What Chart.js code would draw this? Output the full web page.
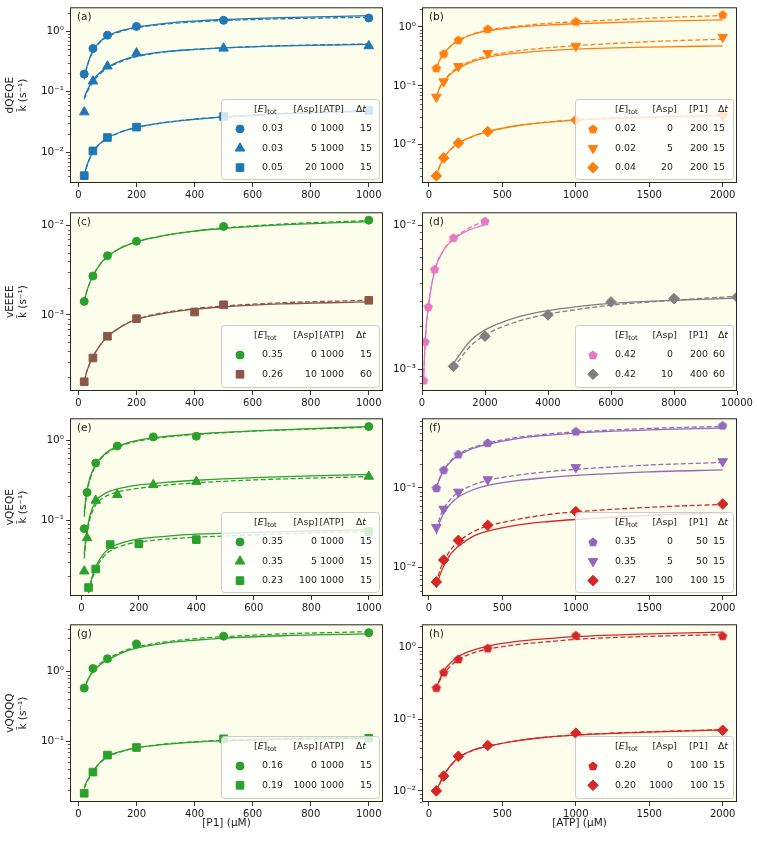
<!DOCTYPE html>
<html lang="en">
<head>
<meta charset="UTF-8">
<title>Rate constants vs substrate</title>
<script src="https://cdn.jsdelivr.net/npm/chart.js@4.4.1/dist/chart.umd.min.js"></script>
<style>
  html, body { margin: 0; padding: 0; background: #fff; }
  body { width: 757px; height: 843px; position: relative; overflow: hidden; }
  canvas { position: absolute; }
</style>
</head>
<body>
<script>
// ---- tick labels ----
const xTicksP1 = [0, 200, 400, 600, 800, 1000];
const xTicksATP = [0, 500, 1000, 1500, 2000];
const xTicksD = [0, 2000, 4000, 6000, 8000, 10000];
const decades = [1e-4, 1e-3, 1e-2, 1e-1, 1, 10];
const decadeLabels = ['10⁻⁴', '10⁻³', '10⁻²', '10⁻¹', '10⁰', '10¹'];

// ---- (a) dQEQE vs [P1] ----
const aX = [20, 50, 100, 200, 500, 1000];
const aCirc = [0.196, 0.517, 0.86, 1.2, 1.51, 1.65];
const aTri = [0.046, 0.149, 0.264, 0.434, 0.52, 0.57];
const aSq = [0.0041, 0.0105, 0.0175, 0.026, 0.039, 0.049];
const fitXLeft = [20, 30, 50, 75, 100, 150, 200, 300, 400, 500, 700, 1000];
const aCircSolid = [0.17, 0.27, 0.48, 0.68, 0.83, 1.03, 1.17, 1.35, 1.47, 1.56, 1.68, 1.80];
const aCircDash = [0.16, 0.26, 0.46, 0.66, 0.81, 1.00, 1.14, 1.31, 1.42, 1.50, 1.60, 1.70];
const aTriSolid = [0.080, 0.105, 0.155, 0.210, 0.255, 0.330, 0.390, 0.460, 0.500, 0.530, 0.570, 0.605];
const aTriDash = [0.075, 0.098, 0.145, 0.198, 0.245, 0.320, 0.380, 0.455, 0.500, 0.530, 0.575, 0.615];
const aSqSolid = [0.0042, 0.0062, 0.0102, 0.0140, 0.0172, 0.0220, 0.0258, 0.0310, 0.0350, 0.0380, 0.0430, 0.0480];
const aSqDash = [0.0040, 0.0060, 0.0100, 0.0138, 0.0170, 0.0218, 0.0256, 0.0310, 0.0352, 0.0385, 0.0435, 0.0490];
const aLegend = [['0.03', '0', '1000', '15'], ['0.03', '5', '1000', '15'], ['0.05', '20', '1000', '15']];

// ---- (b) dQEQE vs [ATP] ----
const bX = [50, 100, 200, 400, 1000, 2000];
const bPent = [0.2, 0.352, 0.598, 0.925, 1.24, 1.61];
const bTri = [0.0646, 0.118, 0.214, 0.357, 0.474, 0.671];
const bDia = [0.00295, 0.00598, 0.0107, 0.0167, 0.0262, 0.0318];
const fitXRight = [50, 75, 100, 150, 200, 300, 400, 600, 800, 1000, 1500, 2000];
const bPentSolid = [0.20, 0.28, 0.35, 0.48, 0.58, 0.75, 0.86, 0.99, 1.07, 1.13, 1.24, 1.32];
const bPentDash = [0.20, 0.28, 0.35, 0.48, 0.59, 0.76, 0.88, 1.03, 1.14, 1.22, 1.40, 1.56];
const bTriSolid = [0.066, 0.094, 0.118, 0.160, 0.198, 0.260, 0.305, 0.360, 0.395, 0.420, 0.455, 0.476];
const bTriDash = [0.066, 0.096, 0.121, 0.167, 0.208, 0.272, 0.322, 0.390, 0.440, 0.480, 0.560, 0.620];
const bDiaSolid = [0.0030, 0.0045, 0.0060, 0.0085, 0.0106, 0.0140, 0.0167, 0.0210, 0.0240, 0.0262, 0.0292, 0.0312];
const bDiaDash = [0.0029, 0.0044, 0.0059, 0.0084, 0.0105, 0.0139, 0.0167, 0.0211, 0.0242, 0.0265, 0.0297, 0.0318];
const bLegend = [['0.02', '0', '200', '15'], ['0.02', '5', '200', '15'], ['0.04', '20', '200', '15']];

// ---- (c) vEEEE vs [P1] ----
const cX = [20, 50, 100, 200, 500, 1000];
const cCirc = [0.00142, 0.00273, 0.0046, 0.00667, 0.0098, 0.0115];
const cSqX = [20, 50, 100, 200, 400, 500, 1000];
const cSq = [0.000179, 0.00033, 0.000578, 0.00091, 0.00108, 0.0013, 0.00146];
const cCircSolid = [0.00142, 0.0019, 0.00273, 0.0037, 0.0045, 0.0057, 0.0066, 0.0078, 0.0087, 0.0093, 0.0102, 0.0111];
const cCircDash = [0.00142, 0.0019, 0.00273, 0.0037, 0.0045, 0.0057, 0.0066, 0.0078, 0.0087, 0.0094, 0.0104, 0.0114];
const cSqSolid = [0.00018, 0.00024, 0.00034, 0.00046, 0.00057, 0.00075, 0.00089, 0.00105, 0.00116, 0.00123, 0.00133, 0.00140];
const cSqDash = [0.00018, 0.00024, 0.00034, 0.00046, 0.00057, 0.00075, 0.00090, 0.00107, 0.00118, 0.00126, 0.00137, 0.00146];
const cLegend = [['0.35', '0', '1000', '15'], ['0.26', '10', '1000', '60']];

// ---- (d) vEEEE vs [ATP] ----
const dPentX = [50, 100, 200, 400, 1000, 2000];
const dPent = [0.00084, 0.00156, 0.00272, 0.00496, 0.0082, 0.0107];
const dDiaX = [1000, 2000, 4000, 6000, 8000, 10000];
const dDia = [0.00105, 0.0017, 0.00239, 0.00294, 0.0031, 0.00318];
const dPentFitX = [50, 100, 200, 400, 700, 1000, 1500, 2000];
const dPentSolid = [0.00084, 0.00155, 0.0027, 0.0048, 0.0068, 0.0080, 0.0093, 0.0101];
const dPentDash = [0.00084, 0.00155, 0.0027, 0.0048, 0.0068, 0.0081, 0.0096, 0.0107];
const dDiaFitX = [1000, 1500, 2000, 3000, 4000, 5000, 6000, 8000, 10000];
const dDiaSolid = [0.0011, 0.00155, 0.00188, 0.0023, 0.00256, 0.00274, 0.00287, 0.00302, 0.00312];
const dDiaDash = [0.00102, 0.00142, 0.00173, 0.00214, 0.00242, 0.00262, 0.00279, 0.00302, 0.00322];
const dLegend = [['0.42', '0', '200', '60'], ['0.42', '10', '400', '60']];

// ---- (e) vQEQE vs [P1] ----
const eX = [10, 20, 50, 125, 250, 400, 1000];
const eCirc = [0.078, 0.222, 0.518, 0.845, 1.1, 1.12, 1.48];
const eTri = [0.0229, 0.0597, 0.176, 0.208, 0.276, 0.303, 0.352];
const eSqX = [25, 50, 100, 200, 400, 1000];
const eSq = [0.0143, 0.0244, 0.0494, 0.0504, 0.0569, 0.072];
const eFitX = [10, 15, 20, 30, 50, 75, 100, 150, 200, 300, 400, 600, 800, 1000];
const eCircSolid = [0.125, 0.18, 0.24, 0.34, 0.50, 0.64, 0.75, 0.90, 1.00, 1.12, 1.20, 1.31, 1.40, 1.48];
const eCircDash = [0.11, 0.165, 0.225, 0.32, 0.48, 0.62, 0.73, 0.88, 0.98, 1.10, 1.18, 1.30, 1.38, 1.45];
const eTriSolid = [0.037, 0.056, 0.075, 0.115, 0.172, 0.208, 0.230, 0.257, 0.275, 0.298, 0.315, 0.340, 0.358, 0.372];
const eTriDash = [0.033, 0.050, 0.067, 0.103, 0.155, 0.188, 0.210, 0.235, 0.250, 0.275, 0.293, 0.318, 0.335, 0.350];
const eSqFitX = [25, 30, 50, 75, 100, 150, 200, 300, 400, 600, 800, 1000];
const eSqSolid = [0.0127, 0.0155, 0.026, 0.037, 0.045, 0.053, 0.058, 0.063, 0.0665, 0.070, 0.073, 0.076];
const eSqDash = [0.0122, 0.0148, 0.024, 0.034, 0.041, 0.049, 0.053, 0.058, 0.061, 0.065, 0.069, 0.072];
const eLegend = [['0.35', '0', '1000', '15'], ['0.35', '5', '1000', '15'], ['0.23', '100', '1000', '15']];

// ---- (f) vQEQE vs [ATP] ----
const fX = [50, 100, 200, 400, 1000, 2000];
const fPent = [0.1, 0.169, 0.267, 0.372, 0.519, 0.616];
const fTri = [0.0319, 0.0544, 0.0892, 0.128, 0.182, 0.216];
const fDia = [0.00652, 0.01233, 0.0218, 0.0338, 0.0503, 0.0628];
const fPentSolid = [0.100, 0.135, 0.165, 0.218, 0.258, 0.315, 0.355, 0.420, 0.462, 0.494, 0.540, 0.570];
const fPentDash = [0.100, 0.136, 0.167, 0.222, 0.265, 0.325, 0.368, 0.435, 0.478, 0.510, 0.565, 0.600];
const fTriSolid = [0.026, 0.038, 0.048, 0.064, 0.077, 0.095, 0.108, 0.124, 0.135, 0.144, 0.160, 0.169];
const fTriDash = [0.030, 0.043, 0.055, 0.073, 0.088, 0.109, 0.125, 0.145, 0.160, 0.172, 0.195, 0.210];
const fDiaSolid = [0.0055, 0.0080, 0.0103, 0.0148, 0.0183, 0.0245, 0.0285, 0.0340, 0.0375, 0.0400, 0.0450, 0.0490];
const fDiaDash = [0.0062, 0.0092, 0.0118, 0.0168, 0.0210, 0.0280, 0.0330, 0.0400, 0.0460, 0.0500, 0.0570, 0.0620];
const fLegend = [['0.35', '0', '50', '15'], ['0.35', '5', '50', '15'], ['0.27', '100', '100', '15']];

// ---- (g) vQQQQ vs [P1] ----
const gX = [20, 50, 100, 200, 500, 1000];
const gCirc = [0.578, 1.1, 1.52, 2.47, 3.2, 3.6];
const gSq = [0.0179, 0.036, 0.063, 0.081, 0.108, 0.11];
const gCircSolid = [0.56, 0.72, 1.00, 1.25, 1.45, 1.85, 2.15, 2.55, 2.80, 3.00, 3.25, 3.45];
const gCircDash = [0.55, 0.72, 1.02, 1.30, 1.50, 1.92, 2.24, 2.65, 2.95, 3.15, 3.45, 3.72];
const gSqSolid = [0.022, 0.027, 0.037, 0.050, 0.060, 0.072, 0.080, 0.090, 0.097, 0.101, 0.106, 0.110];
const gSqDash = [0.021, 0.026, 0.036, 0.049, 0.059, 0.071, 0.080, 0.091, 0.098, 0.103, 0.109, 0.113];
const gLegend = [['0.16', '0', '1000', '15'], ['0.19', '1000', '1000', '15']];

// ---- (h) vQQQQ vs [ATP] ----
const hX = [50, 100, 200, 400, 1000, 2000];
const hPent = [0.275, 0.452, 0.69, 0.98, 1.48, 1.46];
const hDia = [0.01, 0.0161, 0.0304, 0.043, 0.0638, 0.0702];
const hPentSolid = [0.27, 0.37, 0.47, 0.62, 0.75, 0.92, 1.05, 1.22, 1.33, 1.42, 1.55, 1.64];
const hPentDash = [0.26, 0.35, 0.43, 0.56, 0.68, 0.84, 0.95, 1.10, 1.20, 1.30, 1.43, 1.52];
const hDiaSolid = [0.0100, 0.0130, 0.0165, 0.0230, 0.0290, 0.0370, 0.0420, 0.0500, 0.0560, 0.0600, 0.0660, 0.0710];
const hDiaDash = [0.0098, 0.0128, 0.0163, 0.0228, 0.0288, 0.0368, 0.0420, 0.0502, 0.0562, 0.0605, 0.0668, 0.0715];
const hLegend = [['0.20', '0', '100', '15'], ['0.20', '1000', '100', '15']];

// ---- styling / layout ----
const C = { blue: '#1f77b4', orange: '#ff7f0e', green: '#2ca02c', red: '#d62728',
  purple: '#9467bd', brown: '#8c564b', pink: '#e377c2', gray: '#7f7f7f' };
const FONT = "'DejaVu Sans', sans-serif";
const BG = '#fdfdec';
const INK = '#1a1a1a';
const COLS = [
  { left: 0, width: 395, plotLeft: 70, plotRight: 383 },
  { left: 385, width: 372, plotLeft: 422, plotRight: 737 }
];
const ROWS = [{ top: 4, bottom: 183 }, { top: 209, bottom: 391 }, { top: 415, bottom: 596 }, { top: 621, bottom: 802 }];

const S = (kind, color, x, y, fx, solid, dashed) => ({ kind, color, x, y, fx, solid, dashed });

const panels = [
  { tag: '(a)', col: 0, row: 0, ylabel: 'dQEQE', xr: [-29, 1049], xt: xTicksP1, yr: [0.0031, 2.48], legend: aLegend,
    series: [S('circle', C.blue, aX, aCirc, fitXLeft, aCircSolid, aCircDash),
             S('triUp', C.blue, aX, aTri, fitXLeft, aTriSolid, aTriDash),
             S('square', C.blue, aX, aSq, fitXLeft, aSqSolid, aSqDash)] },
  { tag: '(b)', col: 1, row: 0, xr: [-47.5, 2097.5], xt: xTicksATP, yr: [0.00224, 2.15], legend: bLegend,
    series: [S('pentagon', C.orange, bX, bPent, fitXRight, bPentSolid, bPentDash),
             S('triDown', C.orange, bX, bTri, fitXRight, bTriSolid, bTriDash),
             S('diamond', C.orange, bX, bDia, fitXRight, bDiaSolid, bDiaDash)] },
  { tag: '(c)', col: 0, row: 1, ylabel: 'vEEEE', xr: [-29, 1049], xt: xTicksP1, yr: [1.41e-4, 0.0141], legend: cLegend,
    series: [S('circle', C.green, cX, cCirc, fitXLeft, cCircSolid, cCircDash),
             S('square', C.brown, cSqX, cSq, fitXLeft, cSqSolid, cSqDash)] },
  { tag: '(d)', col: 1, row: 1, xr: [0, 10000], xt: xTicksD, yr: [7.08e-4, 0.01232], legend: dLegend,
    series: [S('pentagon', C.pink, dPentX, dPent, dPentFitX, dPentSolid, dPentDash),
             S('diamond', C.gray, dDiaX, dDia, dDiaFitX, dDiaSolid, dDiaDash)] },
  { tag: '(e)', col: 0, row: 2, ylabel: 'vQEQE', xr: [-39.5, 1049.5], xt: xTicksP1, yr: [0.0112, 1.88], legend: eLegend,
    series: [S('circle', C.green, eX, eCirc, eFitX, eCircSolid, eCircDash),
             S('triUp', C.green, eX, eTri, eFitX, eTriSolid, eTriDash),
             S('square', C.green, eSqX, eSq, eSqFitX, eSqSolid, eSqDash)] },
  { tag: '(f)', col: 1, row: 2, xr: [-47.5, 2097.5], xt: xTicksATP, yr: [0.00433, 0.758], legend: fLegend,
    series: [S('pentagon', C.purple, fX, fPent, fitXRight, fPentSolid, fPentDash),
             S('triDown', C.purple, fX, fTri, fitXRight, fTriSolid, fTriDash),
             S('diamond', C.red, fX, fDia, fitXRight, fDiaSolid, fDiaDash)] },
  { tag: '(g)', col: 0, row: 3, ylabel: 'vQQQQ', xlabel: '[P1] (μM)', xr: [-29, 1049], xt: xTicksP1, yr: [0.0134, 4.74], legend: gLegend,
    series: [S('circle', C.green, gX, gCirc, fitXLeft, gCircSolid, gCircDash),
             S('square', C.green, gX, gSq, fitXLeft, gSqSolid, gSqDash)] },
  { tag: '(h)', col: 1, row: 3, xlabel: '[ATP] (μM)', xr: [-47.5, 2097.5], xt: xTicksATP, yr: [0.007, 2.11], legend: hLegend,
    series: [S('pentagon', C.red, hX, hPent, fitXRight, hPentSolid, hPentDash),
             S('diamond', C.red, hX, hDia, fitXRight, hDiaSolid, hDiaDash)] }
];

// pentagon markers as small canvases (Chart.js has no pentagon style)
const pentCache = {};
function pentImg(color) {
  if (pentCache[color]) return pentCache[color];
  const c = document.createElement('canvas');
  c.width = 12; c.height = 12;
  const g = c.getContext('2d');
  g.beginPath();
  for (let i = 0; i < 5; i++) {
    const a = -Math.PI / 2 + i * 2 * Math.PI / 5;
    g.lineTo(6 + 4.9 * Math.cos(a), 6.4 + 4.9 * Math.sin(a));
  }
  g.closePath();
  g.fillStyle = color;
  g.fill();
  pentCache[color] = c;
  return c;
}

function pointStyleFor(kind, color) {
  switch (kind) {
    case 'circle': return { pointStyle: 'circle', pointRadius: 4 };
    case 'square': return { pointStyle: 'rect', pointRadius: 5.4 };
    case 'triUp': return { pointStyle: 'triangle', pointRadius: 5.5 };
    case 'triDown': return { pointStyle: 'triangle', pointRadius: 5.5, pointRotation: 180 };
    case 'diamond': return { pointStyle: 'rectRot', pointRadius: 5.3 };
    case 'pentagon': return { pointStyle: pentImg(color), pointRadius: 5 };
  }
}

function drawMarker(ctx, kind, x, y, color) {
  ctx.fillStyle = color; ctx.strokeStyle = color; ctx.lineWidth = 1;
  if (kind === 'pentagon') { ctx.drawImage(pentImg(color), x - 6, y - 6); return; }
  ctx.beginPath();
  if (kind === 'circle') ctx.arc(x, y, 4, 0, 2 * Math.PI);
  else if (kind === 'square') { const s = 5.4 * Math.SQRT1_2; ctx.rect(x - s, y - s, 2 * s, 2 * s); }
  else if (kind === 'diamond') { const r = 5.3; ctx.moveTo(x, y - r); ctx.lineTo(x + r, y); ctx.lineTo(x, y + r); ctx.lineTo(x - r, y); ctx.closePath(); }
  else {
    const r = 5.5, d = kind === 'triUp' ? 1 : -1;
    ctx.moveTo(x, y - d * r); ctx.lineTo(x + r * 0.866, y + d * r * 0.5); ctx.lineTo(x - r * 0.866, y + d * r * 0.5); ctx.closePath();
  }
  ctx.fill(); ctx.stroke();
}

// legend text made of plain / italic / subscript pieces
const LEG_PX = 9.4;
function pieceFont(k) {
  if (k === 'i') return 'italic ' + LEG_PX + 'px ' + FONT;
  if (k === 'sub') return '6.8px ' + FONT;
  return LEG_PX + 'px ' + FONT;
}
function drawRich(ctx, parts, x, y, align) {
  let w = 0;
  parts.forEach(p => { ctx.font = pieceFont(p[1]); w += ctx.measureText(p[0]).width; });
  let cx = align === 'right' ? x - w : x;
  ctx.textAlign = 'left';
  parts.forEach(p => {
    ctx.font = pieceFont(p[1]);
    ctx.fillText(p[0], cx, y + (p[1] === 'sub' ? 3 : 0));
    cx += ctx.measureText(p[0]).width;
  });
}

const LEG_LAYOUT = [
  { mk: 19, h1: 33, v1: 41, h2: 97, v2: 96, h3: 123, v3: 123, h4: 145, v4: 151, third: '[ATP]' },
  { mk: 18, h1: 40, v1: 40, h2: 102, v2: 98, h3: 133, v3: 133, h4: 153, v4: 150, third: '[P1]' }
];

function drawLegend(ctx, a, p) {
  const L = LEG_LAYOUT[p.col];
  const n = p.legend.length;
  const w = 158, h = n === 3 ? 80 : 62;
  const x0 = a.right - 4 - w, y0 = a.bottom - 4 - h;
  ctx.save();
  ctx.beginPath();
  ctx.roundRect(x0 + 0.5, y0 + 0.5, w, h, 3);
  ctx.fillStyle = 'rgba(255,255,255,0.8)';
  ctx.fill();
  ctx.strokeStyle = '#cccccc';
  ctx.lineWidth = 1;
  ctx.stroke();
  ctx.fillStyle = INK;
  ctx.textBaseline = 'middle';
  const hy = y0 + 10.5;
  drawRich(ctx, [['[', ''], ['E', 'i'], [']', ''], ['tot', 'sub']], x0 + L.h1, hy, 'left');
  drawRich(ctx, [['[Asp]', '']], x0 + L.h2, hy, 'right');
  drawRich(ctx, [[L.third, '']], x0 + L.h3, hy, 'right');
  drawRich(ctx, [['Δ', ''], ['t', 'i']], x0 + L.h4, hy, 'right');
  p.legend.forEach((row, i) => {
    const ry = y0 + 30 + i * 19.3;
    const s = p.series[i];
    drawMarker(ctx, s.kind, x0 + L.mk, ry, s.color);
    ctx.fillStyle = INK;
    ctx.font = LEG_PX + 'px ' + FONT;
    ctx.textAlign = 'left';
    ctx.fillText(row[0], x0 + L.v1, ry);
    ctx.textAlign = 'right';
    ctx.fillText(row[1], x0 + L.v2, ry);
    ctx.fillText(row[2], x0 + L.v3, ry);
    ctx.fillText(row[3], x0 + L.v4, ry);
  });
  ctx.restore();
}

function decoPlugin(p) {
  return {
    id: 'deco',
    beforeDraw(chart) {
      const { ctx, chartArea: a } = chart;
      ctx.save();
      ctx.fillStyle = BG;
      ctx.fillRect(a.left, a.top, a.right - a.left, a.bottom - a.top);
      ctx.restore();
    },
    afterDraw(chart) {
      const { ctx, chartArea: a } = chart;
      const ys = chart.scales.y;
      ctx.save();
      // minor log ticks
      ctx.strokeStyle = '#333';
      ctx.lineWidth = 0.8;
      ctx.beginPath();
      for (let e = -5; e <= 1; e++) {
        for (let k = 2; k <= 9; k++) {
          const v = k * Math.pow(10, e);
          if (v < p.yr[0] || v > p.yr[1]) continue;
          const py = Math.round(ys.getPixelForValue(v)) + 0.5;
          ctx.moveTo(a.left - 2.2, py);
          ctx.lineTo(a.left, py);
        }
      }
      ctx.stroke();
      // frame
      ctx.strokeStyle = '#262626';
      ctx.lineWidth = 1;
      ctx.strokeRect(a.left + 0.5, a.top + 0.5, a.right - a.left - 1, a.bottom - a.top - 1);
      // panel tag
      ctx.fillStyle = INK;
      ctx.font = '10.5px ' + FONT;
      ctx.textAlign = 'left';
      ctx.textBaseline = 'middle';
      ctx.fillText(p.tag, a.left + 7, a.top + 9.5);
      ctx.restore();
      drawLegend(ctx, a, p);
    }
  };
}

function decadeLabel(v) {
  const i = decades.findIndex(d => Math.abs(Math.log10(d) - Math.log10(v)) < 1e-6);
  return i >= 0 ? decadeLabels[i] : '';
}

panels.forEach(p => {
  const col = COLS[p.col], row = ROWS[p.row];
  const padTop = 5;
  const xH = p.xlabel ? 28 : 20;
  const w = col.width, h = (row.bottom - row.top) + padTop + xH;
  const cv = document.createElement('canvas');
  cv.width = w; cv.height = h;
  cv.style.left = col.left + 'px';
  cv.style.top = (row.top - padTop) + 'px';
  cv.style.width = w + 'px';
  cv.style.height = h + 'px';
  document.body.appendChild(cv);

  const datasets = [];
  p.series.forEach(s => {
    datasets.push(Object.assign({
      data: s.x.map((x, i) => ({ x, y: s.y[i] })),
      showLine: false, backgroundColor: s.color, borderColor: s.color, borderWidth: 1, order: 0
    }, pointStyleFor(s.kind, s.color)));
    datasets.push({
      data: s.fx.map((x, i) => ({ x, y: s.solid[i] })),
      showLine: true, pointRadius: 0, borderColor: s.color, borderWidth: 1.3,
      cubicInterpolationMode: 'monotone', order: 1
    });
    datasets.push({
      data: s.fx.map((x, i) => ({ x, y: s.dashed[i] })),
      showLine: true, pointRadius: 0, borderColor: s.color, borderWidth: 1.3, borderDash: [5, 2.5],
      cubicInterpolationMode: 'monotone', order: 2
    });
  });

  new Chart(cv, {
    type: 'scatter',
    data: { datasets },
    options: {
      responsive: false, animation: false, devicePixelRatio: 1, events: [],
      layout: { autoPadding: false, padding: { top: padTop, left: 0, bottom: 0, right: col.left + col.width - col.plotRight } },
      plugins: { legend: { display: false }, tooltip: { enabled: false } },
      scales: {
        x: {
          type: 'linear', min: p.xr[0], max: p.xr[1],
          afterBuildTicks: sc => { sc.ticks = p.xt.map(v => ({ value: v })); },
          afterFit: sc => { sc.height = xH; },
          ticks: { font: { family: FONT, size: 10 }, color: INK, padding: 2, maxRotation: 0, autoSkip: false, callback: v => String(v) },
          grid: { drawOnChartArea: false, drawTicks: true, tickLength: 4, tickColor: '#333', tickWidth: 1 },
          border: { display: false },
          title: { display: !!p.xlabel, text: p.xlabel || '', color: INK, font: { family: FONT, size: 10.5 }, padding: { top: 0, bottom: 0 } }
        },
        y: {
          type: 'logarithmic', min: p.yr[0], max: p.yr[1],
          afterBuildTicks: sc => {
            sc.ticks = decades.filter(v => v >= p.yr[0] && v <= p.yr[1]).map(v => ({ value: v }));
          },
          afterFit: sc => { sc.width = col.plotLeft - col.left; },
          ticks: { font: { family: FONT, size: 10.5 }, color: INK, padding: 2, autoSkip: false, callback: v => decadeLabel(v) },
          grid: { drawOnChartArea: false, drawTicks: true, tickLength: 4, tickColor: '#333', tickWidth: 1 },
          border: { display: false },
          title: { display: !!p.ylabel, text: [p.ylabel || '', 'k\u0303 (s⁻¹)'], color: INK,
            font: { family: FONT, size: 10.5, lineHeight: 1.2 }, padding: { top: 4, bottom: 0 } }
        }
      }
    },
    plugins: [decoPlugin(p)]
  });
});
</script>
</body>
</html>
